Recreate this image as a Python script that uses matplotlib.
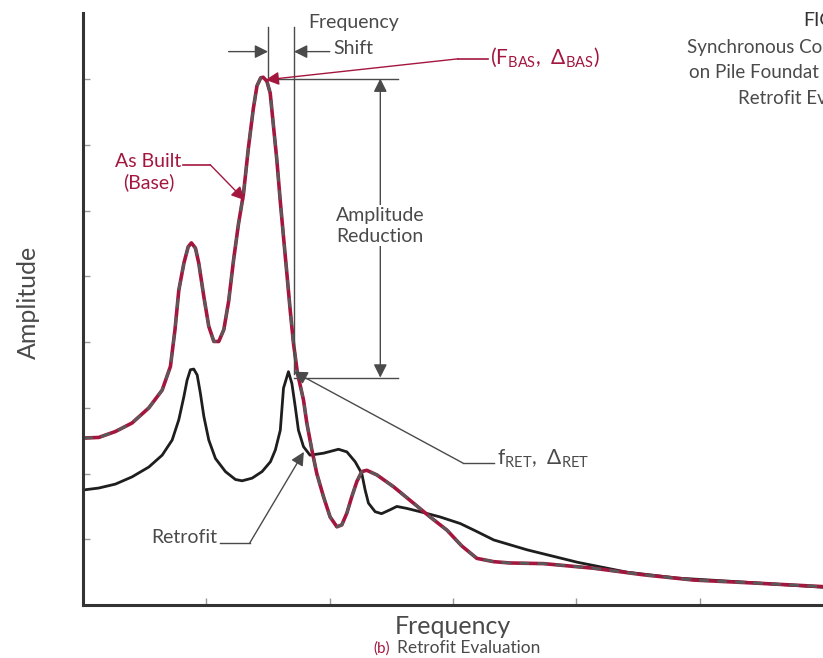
import matplotlib
matplotlib.use("Agg")
import matplotlib.pyplot as plt

plt.rcParams['font.family'] = ['Lato', 'DejaVu Sans']
plt.rcParams['mathtext.fontset'] = 'custom'
plt.rcParams['mathtext.rm'] = 'Lato'

CRIMSON = '#a3173f'
GRAY = '#4a4a4a'

# as built (base) response
base_f = [0.0, 0.127, 0.262, 0.397, 0.533, 0.641, 0.708, 0.745, 0.776, 0.817, 0.852,
          0.878, 0.911, 0.938, 0.979, 1.019, 1.06, 1.10, 1.141, 1.18, 1.22, 1.26,
          1.30, 1.34, 1.38, 1.41, 1.44, 1.46, 1.49, 1.517, 1.544, 1.571, 1.598,
          1.625, 1.652, 1.679, 1.706, 1.738, 1.787, 1.814, 1.855, 1.895, 1.949,
          2.003, 2.058, 2.098, 2.139, 2.179, 2.22, 2.26, 2.30, 2.382, 2.517, 2.679,
          2.814, 2.95, 3.07, 3.193, 3.328, 3.46, 3.733, 4.139, 4.544, 4.95, 5.49, 6.0]
base_amp = [2.54, 2.55, 2.64, 2.77, 3.0, 3.27, 3.63, 4.19, 4.79, 5.20, 5.45,
            5.51, 5.43, 5.20, 4.69, 4.24, 4.01, 4.01, 4.19, 4.62, 5.25, 5.80,
            6.25, 6.95, 7.55, 7.90, 8.02, 8.03, 7.97, 7.79, 7.28, 6.77, 6.16,
            5.60, 5.05, 4.49, 3.98, 3.53, 3.12, 2.77, 2.36, 2.0, 1.65,
            1.34, 1.19, 1.22, 1.40, 1.65, 1.88, 2.03, 2.05, 1.98, 1.80, 1.55,
            1.34, 1.14, 0.90, 0.71, 0.66, 0.64, 0.63, 0.56, 0.46, 0.38, 0.33, 0.28]

# retrofit response
ret_f = [0.0, 0.127, 0.262, 0.397, 0.533, 0.641, 0.722, 0.776, 0.817, 0.843, 0.870,
         0.897, 0.925, 0.951, 0.979, 1.019, 1.073, 1.154, 1.235, 1.289, 1.370,
         1.451, 1.519, 1.559, 1.599, 1.625, 1.665, 1.693, 1.72, 1.746, 1.787, 1.84,
         1.949, 2.071, 2.139, 2.206, 2.26, 2.287, 2.314, 2.368, 2.42, 2.49, 2.544,
         2.625, 2.733, 2.895, 3.058, 3.18, 3.33, 3.60, 4.01, 4.41, 4.82, 5.35, 6.0]
ret_amp = [1.75, 1.78, 1.84, 1.95, 2.10, 2.28, 2.51, 2.82, 3.17, 3.42, 3.58,
           3.59, 3.50, 3.22, 2.87, 2.51, 2.23, 2.03, 1.91, 1.89, 1.93,
           2.03, 2.18, 2.36, 2.66, 3.30, 3.55, 3.37, 3.02, 2.66, 2.41, 2.28,
           2.31, 2.37, 2.33, 2.18, 2.0, 1.75, 1.55, 1.42, 1.39, 1.45, 1.50,
           1.47, 1.42, 1.34, 1.24, 1.13, 0.99, 0.84, 0.65, 0.50, 0.41, 0.35, 0.27]

fig = plt.figure(figsize=(8.23, 6.58), dpi=100)
ax = fig.add_axes([0.101, 0.0805, 0.899, 0.899])

ax.plot(ret_f, ret_amp, color='#1e1e1e', lw=2.0, solid_joinstyle='round')
ax.plot(base_f, base_amp, color=CRIMSON, lw=2.6, solid_joinstyle='round')
ax.plot(base_f, base_amp, color='#5a5a5a', lw=2.0, ls=(0, (3.5, 3)))

ax.set_xlim(0, 6)
ax.set_ylim(0, 9)
ax.set_xticks([1, 2, 3, 4, 5])
ax.set_yticks([1, 2, 3, 4, 5, 6, 7, 8])
ax.set_xticklabels([])
ax.set_yticklabels([])
ax.tick_params(direction='in', length=5, width=1, color='#999999')
for s in ['top', 'right']:
    ax.spines[s].set_visible(False)
for s in ['left', 'bottom']:
    ax.spines[s].set_color('#333333')
    ax.spines[s].set_linewidth(2.2)

arr = dict(arrowstyle='-|>', mutation_scale=20, lw=1.0, color=GRAY, shrinkA=0, shrinkB=0)

# frequency shift
ax.plot([1.50, 1.50], [8.04, 8.80], color=GRAY, lw=1.0)
ax.plot([1.71, 1.71], [3.52, 8.80], color=GRAY, lw=1.0)
ax.annotate('', xy=(1.50, 8.42), xytext=(1.18, 8.42), arrowprops=arr)
ax.annotate('', xy=(1.71, 8.42), xytext=(2.00, 8.42), arrowprops=arr)
ax.text(2.19, 8.86, 'Frequency', ha='center', va='center', fontsize=14, color=GRAY)
ax.text(2.19, 8.47, 'Shift', ha='center', va='center', fontsize=14, color=GRAY)

# amplitude reduction
ax.plot([1.50, 2.55], [8.01, 8.01], color=GRAY, lw=1.0)
ax.plot([1.71, 2.55], [3.46, 3.46], color=GRAY, lw=1.0)
ax.annotate('', xy=(2.41, 8.01), xytext=(2.41, 5.77), arrowprops=arr)
ax.annotate('', xy=(2.41, 3.46), xytext=(2.41, 5.77), arrowprops=arr)
ax.text(2.41, 5.77, 'Amplitude\nReduction', ha='center', va='center', fontsize=14,
        color=GRAY, linespacing=1.3,
        bbox=dict(facecolor='white', edgecolor='none', pad=1))

# (F_BAS, Delta_BAS)
arr_c = dict(arr, color=CRIMSON)
ax.plot([3.04, 3.28], [8.31, 8.31], color=CRIMSON, lw=1.2)
ax.annotate('', xy=(1.48, 7.99), xytext=(3.04, 8.31), arrowprops=arr_c)
ax.text(3.30, 8.33, r'$\mathregular{(F_{BAS},\ \Delta_{BAS})}$', ha='left', va='center',
        fontsize=15, color=CRIMSON)

# f_RET, Delta_RET
ax.plot([3.08, 3.33], [2.16, 2.16], color=GRAY, lw=1.0)
ax.annotate('', xy=(1.71, 3.55), xytext=(3.08, 2.16), arrowprops=arr)
ax.text(3.36, 2.22, r'$\mathregular{f_{RET},\ \Delta_{RET}}$', ha='left', va='center',
        fontsize=15, color=GRAY)

# Retrofit label
ax.plot([1.11, 1.35], [0.94, 0.94], color=GRAY, lw=1.0)
ax.annotate('', xy=(1.79, 2.33), xytext=(1.35, 0.94), arrowprops=arr)
ax.text(1.09, 1.02, 'Retrofit', ha='right', va='center', fontsize=14, color=GRAY)

# As Built label
ax.plot([0.81, 1.03], [6.70, 6.70], color=CRIMSON, lw=1.2)
ax.annotate('', xy=(1.31, 6.16), xytext=(1.03, 6.70), arrowprops=arr_c)
ax.text(0.53, 6.59, 'As Built\n(Base)', ha='center', va='center', fontsize=14,
        color=CRIMSON, linespacing=1.25)

# axis titles and caption
fig.text(28 / 823, 1 - 302 / 658, 'Amplitude', rotation=90, ha='center', va='center',
         fontsize=18, color=GRAY)
fig.text(453 / 823, 1 - 627 / 658, 'Frequency', ha='center', va='center',
         fontsize=18, color=GRAY)
fig.text(373 / 823, 1 - 649 / 658, '(b)', ha='left', va='center', fontsize=11, color=CRIMSON)
fig.text(397 / 823, 1 - 648 / 658, 'Retrofit Evaluation', ha='left', va='center',
         fontsize=12.5, color=GRAY)

# figure heading, cut at the right edge as in the source page
fig.text(803 / 823, 1 - 20 / 658, 'FIG', ha='left', va='center', fontsize=14, color='#333333')
fig.text(687 / 823, 1 - 47 / 658, 'Synchronous Co', ha='left', va='center', fontsize=13.5, color=GRAY)
fig.text(689 / 823, 1 - 72 / 658, 'on Pile Foundat', ha='left', va='center', fontsize=13.5, color=GRAY)
fig.text(738 / 823, 1 - 98 / 658, 'Retrofit Ev', ha='left', va='center', fontsize=13.5, color=GRAY)

fig.savefig('out.png', dpi=100)
